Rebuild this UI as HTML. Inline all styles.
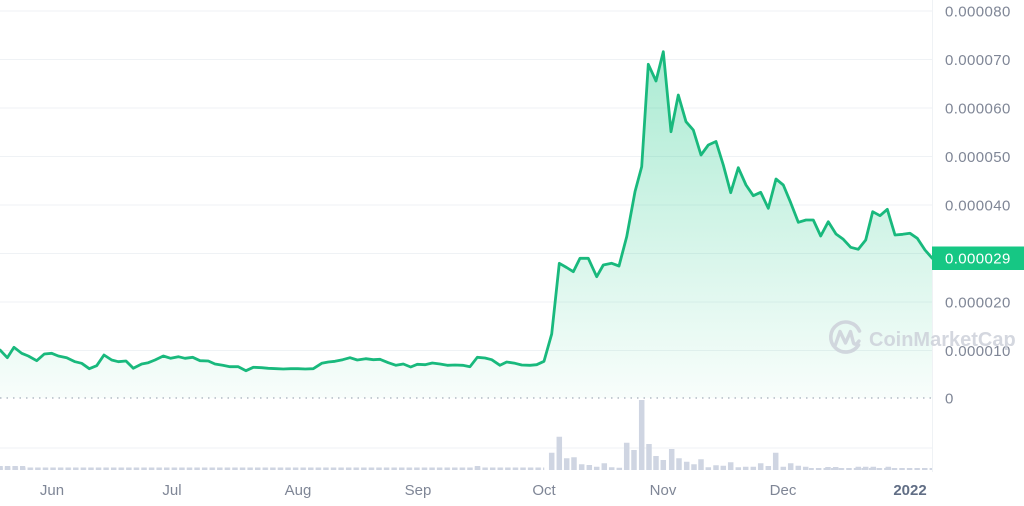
<!DOCTYPE html>
<html>
<head>
<meta charset="utf-8">
<style>
  html,body{margin:0;padding:0;background:#fff;}
  body{width:1024px;height:506px;overflow:hidden;}
  svg{display:block;}
  .yl{font-family:"Liberation Sans",sans-serif;font-size:15px;fill:#7f8696;letter-spacing:0.4px;}
  .xl{font-family:"Liberation Sans",sans-serif;font-size:15px;fill:#7f8696;text-anchor:middle;}
</style>
</head>
<body>
<svg width="1024" height="506" viewBox="0 0 1024 506" xmlns="http://www.w3.org/2000/svg">
  <defs>
    <linearGradient id="fillg" gradientUnits="userSpaceOnUse" x1="0" y1="50" x2="0" y2="398">
      <stop offset="0" stop-color="#16c784" stop-opacity="0.36"/>
      <stop offset="1" stop-color="#16c784" stop-opacity="0.03"/>
    </linearGradient>
    <pattern id="vb" patternUnits="userSpaceOnUse" x="-2.75" y="0" width="7.58" height="506">
      <rect x="0" y="0" width="5.5" height="506" fill="#cfd5e2"/>
    </pattern>
    <clipPath id="plot"><rect x="0" y="0" width="932" height="506"/></clipPath>
  </defs>

  <g stroke="#eff2f5" stroke-width="1">
    <path d="M0,11H932M0,59.5H932M0,108H932M0,156.5H932M0,205H932M0,253.5H932M0,302H932M0,350.5H932M0,448H932M932.5,0V472"/>
  </g>

  <g clip-path="url(#plot)">
    <rect x="-2.75" y="467.5" width="547" height="2.5" fill="url(#vb)"/>
    <rect x="-2.75" y="466" width="28" height="4" fill="url(#vb)"/>
    <rect x="809" y="468" width="124" height="2" fill="url(#vb)"/>

    <path fill="none" stroke="#cfd5e2" stroke-width="5.5" d="M477.5,470V466M551.7,470V452.7M559.3,470V436.7M566.7,470V458.3M574,470V457.3M581.7,470V464.3M589.3,470V465M596.7,470V466.7M604.3,470V463.3M611.7,470V467.3M619.3,470V467.7M626.7,470V442.7M634,470V450M641.7,470V400M649,470V444M656,470V456M663.3,470V460M671.7,470V449M679,470V458.3M686.7,470V461.7M694,470V464.3M701,470V459.3M708.3,470V467.3M716,470V465.3M723.3,470V465.7M730.7,470V462.3M738.3,470V467.3M745.7,470V466.7M753.3,470V466.7M760.7,470V463.3M768.3,470V466M775.7,470V452.7M783.3,470V466.7M790.7,470V463.3M798.3,470V465.7M805.7,470V466.7M828,470V467M835.7,470V467M858.3,470V466.7M865.7,470V466.7M873.3,470V466.7M888.3,470V466.7"/>

    <line x1="0" y1="398" x2="932" y2="398" stroke="#a6adbb" stroke-width="1.2" stroke-dasharray="1.5 5"/>

    <path fill="url(#fillg)" stroke="#19b97d" stroke-width="2.8" stroke-linejoin="round" d="M-4,398 -4,350 0,350 7.3,357.7 14,347.3 21.7,353.3 28.3,356 36.7,360.7 44.3,354 51.7,353.3 58.3,356 66.7,357.7 75,361.7 81.7,363.3 89.3,368.7 96.7,365.7 104,355 111.7,360 118.3,361.7 126,361 133.3,368.3 141.7,364 148.3,362.7 155,360 163.3,356 170.7,358.3 178.3,356.7 185,358.3 192.7,357.3 200,360.7 208.3,361 215,364 222.7,365.3 230,366.7 238.3,366.7 246,370.7 253.3,367.3 261.7,367.7 268.3,368.3 276.7,368.7 283.3,369 290.7,368.7 298,368.7 305.3,369 313.3,368.7 321.7,363.3 328.3,362 335,361.3 342.7,359.7 350,357.7 357.3,360 365.7,358.7 373.3,359.7 380,359.3 388.3,362.7 396,365.3 403.3,364 410.7,367 417.3,364.3 425,364.7 432.3,363 440,364 447.3,365.3 455,365 462.7,365.3 470,366.7 477.3,357.3 485,358 491.7,359.7 500,365.3 506.7,362 515,363.3 521.7,365 530,365.3 536.7,364.7 544,361.3 551.7,334 559.3,263.3 566.6,267.5 573.3,271.7 580,258.3 588.3,258.3 596.7,276.7 603.3,265 611.7,263.3 619,266 626.7,236.7 635,191.7 641.7,166.7 648.3,64.3 656,81 663.3,51.7 671,131.7 678.3,95 686,121.7 693.3,130 701,155 708.3,145 716,141.5 723.3,165 730.7,192.7 738.3,167.7 746,185 753.3,195.7 760.7,192.3 768.3,208.3 776,179 783.3,185 790.7,202.7 798.3,222.3 806,220 813.3,220 820.7,236 828.3,221.7 836,234 843.3,239.3 850.7,247.3 858.3,249.3 865.7,240 872.7,211.7 880,215.7 887.3,209.3 895,235 902.7,234.3 910,233.3 917.3,238.3 925,250 932.3,258.3 936,258.3 936,398"/>
  </g>

  <text class="yl" x="945" y="16.5">0.000080</text>
  <text class="yl" x="945" y="65">0.000070</text>
  <text class="yl" x="945" y="113.5">0.000060</text>
  <text class="yl" x="945" y="162">0.000050</text>
  <text class="yl" x="945" y="210.5">0.000040</text>
  <text class="yl" x="945" y="307.5">0.000020</text>
  <text class="yl" x="945" y="356">0.000010</text>
  <text class="yl" x="945" y="403.5">0</text>

  <rect x="932" y="246.5" width="92" height="23.5" fill="#16c784"/>
  <text class="yl" x="945" y="263.5" style="fill:#ffffff">0.000029</text>

  <text class="xl" x="52" y="495">Jun</text>
  <text class="xl" x="172" y="495">Jul</text>
  <text class="xl" x="298" y="495">Aug</text>
  <text class="xl" x="418" y="495">Sep</text>
  <text class="xl" x="544" y="495">Oct</text>
  <text class="xl" x="663" y="495">Nov</text>
  <text class="xl" x="783" y="495">Dec</text>
  <text class="xl" x="910" y="495" style="font-weight:bold;fill:#616e85">2022</text>

  <g opacity="0.85">
    <path d="M858.5,345 A15,15 0 1 1 859.5,331" fill="none" stroke="#cdd1da" stroke-width="3.6" stroke-linecap="round"/>
    <path d="M835,346 L840,331.5 L845.5,343 L850.5,331.5 L853.5,343 Q855.5,346 859,341" fill="none" stroke="#cdd1da" stroke-width="3.4" stroke-linejoin="round" stroke-linecap="round"/>
    <text x="869" y="346" style="font-family:'Liberation Sans',sans-serif;font-size:20px;font-weight:bold;fill:#cdd1da">CoinMarketCap</text>
  </g>
</svg>
</body>
</html>
